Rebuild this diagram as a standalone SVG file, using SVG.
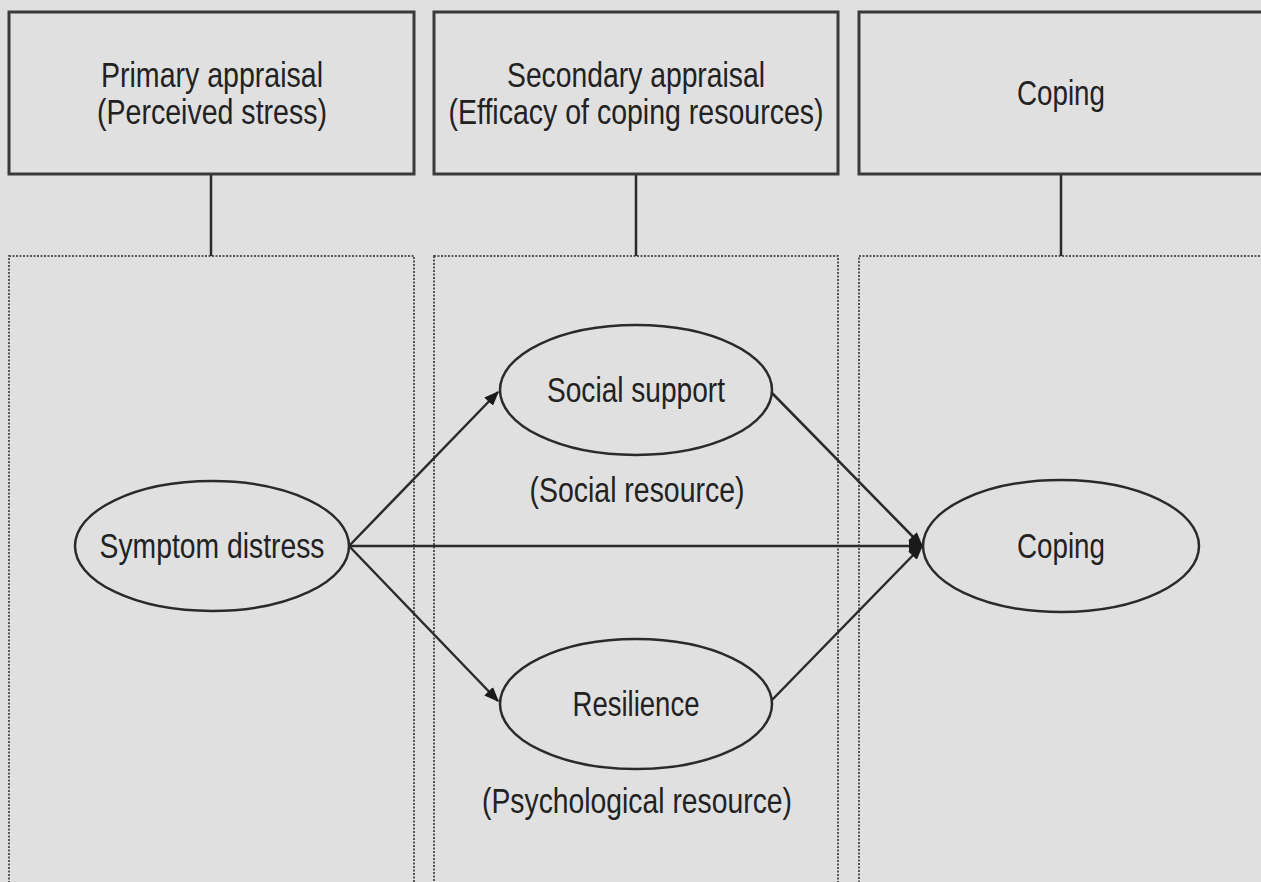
<svg xmlns="http://www.w3.org/2000/svg" width="1261" height="882" viewBox="0 0 1261 882">
<defs>
<style>
.hdr{fill:#e0e0e0;stroke:#3a3a3a;stroke-width:3}
.pnl{fill:#e0e0e0;stroke:#555;stroke-width:2;stroke-dasharray:2 1.5}
.ell{fill:#e0e0e0;stroke:#2a2a2a;stroke-width:2.5}
.t{font-family:"Liberation Sans",Arial,sans-serif;font-size:35px;fill:#222;text-anchor:middle}
.ln{stroke:#2a2a2a;stroke-width:2.5;fill:none}
</style>
<marker id="ah" viewBox="0 0 10 10" refX="9" refY="5" markerWidth="6" markerHeight="6" orient="auto" markerUnits="strokeWidth">
<path d="M0,1 L10,5 L0,9 z" fill="#1a1a1a"/>
</marker>
</defs>
<rect x="0" y="0" width="1261" height="882" fill="#e0e0e0"/>
<g id="panels">
<rect class="pnl" x="9" y="256" width="405" height="640"/>
<rect class="pnl" x="434" y="256" width="404" height="640"/>
<rect class="pnl" x="859" y="256" width="410" height="640"/>
</g>
<g id="connectors">
<line class="ln" x1="211" y1="174" x2="211" y2="256"/>
<line class="ln" x1="636" y1="174" x2="636" y2="256"/>
<line class="ln" x1="1061" y1="174" x2="1061" y2="256"/>
<line class="ln" x1="349" y1="546" x2="498" y2="392" marker-end="url(#ah)"/>
<line class="ln" x1="349" y1="546" x2="498" y2="701" marker-end="url(#ah)"/>
<line class="ln" x1="349" y1="546" x2="922" y2="546" marker-end="url(#ah)"/>
<line class="ln" x1="772" y1="393" x2="922" y2="546" marker-end="url(#ah)"/>
<line class="ln" x1="772" y1="700" x2="922" y2="546" marker-end="url(#ah)"/>
</g>
<g id="primary">
<rect class="hdr" x="9" y="12" width="405" height="162"/>
<text class="t" x="212" y="87" textLength="222" lengthAdjust="spacingAndGlyphs">Primary appraisal</text>
<text class="t" x="212" y="124" textLength="230" lengthAdjust="spacingAndGlyphs">(Perceived stress)</text>
</g>
<g id="secondary">
<rect class="hdr" x="434" y="12" width="404" height="162"/>
<text class="t" x="636" y="87" textLength="258" lengthAdjust="spacingAndGlyphs">Secondary appraisal</text>
<text class="t" x="636" y="124" textLength="375" lengthAdjust="spacingAndGlyphs">(Efficacy of coping resources)</text>
</g>
<g id="coping-hdr">
<rect class="hdr" x="859" y="12" width="410" height="162"/>
<text class="t" x="1061" y="105" textLength="88" lengthAdjust="spacingAndGlyphs">Coping</text>
</g>
<g id="symptom">
<ellipse class="ell" cx="212" cy="546" rx="137" ry="65"/>
<text class="t" x="212" y="558" textLength="225" lengthAdjust="spacingAndGlyphs">Symptom distress</text>
</g>
<g id="social">
<ellipse class="ell" cx="636" cy="390" rx="136" ry="65"/>
<text class="t" x="636" y="402" textLength="178" lengthAdjust="spacingAndGlyphs">Social support</text>
<text class="t" x="637" y="502" textLength="215" lengthAdjust="spacingAndGlyphs">(Social resource)</text>
</g>
<g id="resilience">
<ellipse class="ell" cx="636" cy="704" rx="136" ry="65"/>
<text class="t" x="636" y="716" textLength="127" lengthAdjust="spacingAndGlyphs">Resilience</text>
<text class="t" x="637" y="813" textLength="310" lengthAdjust="spacingAndGlyphs">(Psychological resource)</text>
</g>
<g id="coping">
<ellipse class="ell" cx="1061" cy="546" rx="138" ry="66"/>
<text class="t" x="1061" y="558" textLength="88" lengthAdjust="spacingAndGlyphs">Coping</text>
</g>
</svg>
